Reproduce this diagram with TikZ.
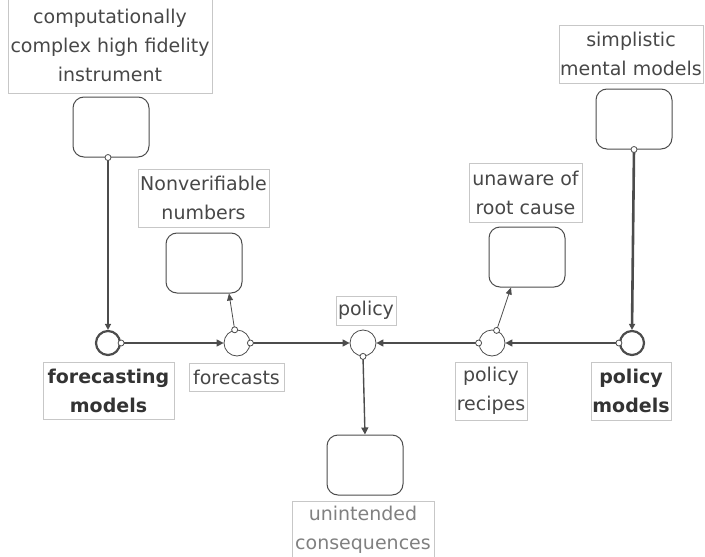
\documentclass[tikz,border=0pt]{standalone}
\usepackage{fontspec}
\setmainfont{DejaVu Sans}
\usetikzlibrary{arrows.meta}
\begin{document}
\begin{tikzpicture}[x=1pt,y=-1pt,
  lbl/.style={draw=black!22, line width=0.6pt, text=black!72, font=\fontsize{19}{29}\selectfont, align=center, inner sep=0pt},
  boldlbl/.style={lbl, text=black!80, font=\fontsize{19}{29}\selectfont\bfseries},
  stock/.style={draw=black!70, line width=1pt, rounded corners=11pt, minimum width=76pt, minimum height=60pt, inner sep=0pt},
  conv/.style={circle, draw=black!70, line width=0.8pt, minimum size=26pt, inner sep=0pt},
  model/.style={conv, line width=2.2pt, minimum size=24pt},
  port/.style={circle, draw=black!70, fill=white, line width=0.8pt, minimum size=6pt, inner sep=0pt},
  flow/.style={draw=black!70, line width=1.4pt, -{Triangle[length=7pt,width=7pt]}},
  thickflow/.style={draw=black!70, line width=2.6pt, -{Triangle[length=6pt,width=6pt]}},
  info/.style={draw=black!70, line width=0.8pt, -{Triangle[length=7pt,width=6pt]}}
]
\useasboundingbox (0,0) rectangle (705,557);

% labels
\node[lbl, minimum width=204pt, minimum height=96pt] (l1) at (110,45) {computationally\\complex high fidelity\\instrument};
\node[lbl, minimum width=131pt, minimum height=58pt] (l2) at (203.5,198) {Nonverifiable\\numbers};
\node[boldlbl, minimum width=131pt, minimum height=57pt] (l3) at (108.5,390.5) {forecasting\\models};
\node[lbl, minimum width=95pt, minimum height=28pt] (l4) at (236.5,377) {forecasts};
\node[lbl, minimum width=60pt, minimum height=29pt] (l5) at (366,310.5) {policy};
\node[lbl, minimum width=72pt, minimum height=58pt] (l6) at (491,391) {policy\\recipes};
\node[boldlbl, minimum width=80pt, minimum height=58pt] (l7) at (631,391) {policy\\models};
\node[lbl, minimum width=113pt, minimum height=59pt] (l8) at (525.5,192.5) {unaware of\\root cause};
\node[lbl, minimum width=144pt, minimum height=58pt] (l9) at (631,54) {simplistic\\mental models};
\node[lbl, text=black!50, minimum width=142pt, minimum height=58pt] (l10) at (363,530) {unintended\\consequences};

% stocks
\node[stock] (s1) at (111,127) {};
\node[stock] (nv) at (204,263) {};
\node[stock] (ua) at (527,257) {};
\node[stock] (sm) at (634,119) {};
\node[stock] (uc) at (365,465) {};

% converters
\node[model] (fm) at (108,343) {};
\node[conv] (fc) at (237,343) {};
\node[conv] (po) at (363,343) {};
\node[conv] (pr) at (492,343) {};
\node[model] (pm) at (632,343) {};

% connectors
\draw[thickflow] ([xshift=-3pt]s1.south) -- (fm.north);
\draw[thickflow] (sm.south) -- (pm.north);
\draw[flow] (fm.east) -- (fc.west);
\draw[flow] (fc.east) -- (po.west);
\draw[flow] (pr.west) -- (po.east);
\draw[flow] (pm.west) -- (pr.east);
\draw[flow] (po.south) -- (uc.north);
\draw[info] (fc.100) -- ([xshift=25pt]nv.south);
\draw[info] (pr.70) -- ([xshift=-16pt]ua.south);

% ports
\node[port] (ps1) at ([xshift=-3pt]s1.south) {};
\node[port] (psm) at (sm.south) {};
\node[port] (pfm) at (fm.east) {};
\node[port] (pfc1) at (fc.east) {};
\node[port] (pfc2) at (fc.100) {};
\node[port] (ppo) at (po.south) {};
\node[port] (ppr1) at (pr.west) {};
\node[port] (ppr2) at (pr.70) {};
\node[port] (ppm) at (pm.west) {};
\end{tikzpicture}
\end{document}
